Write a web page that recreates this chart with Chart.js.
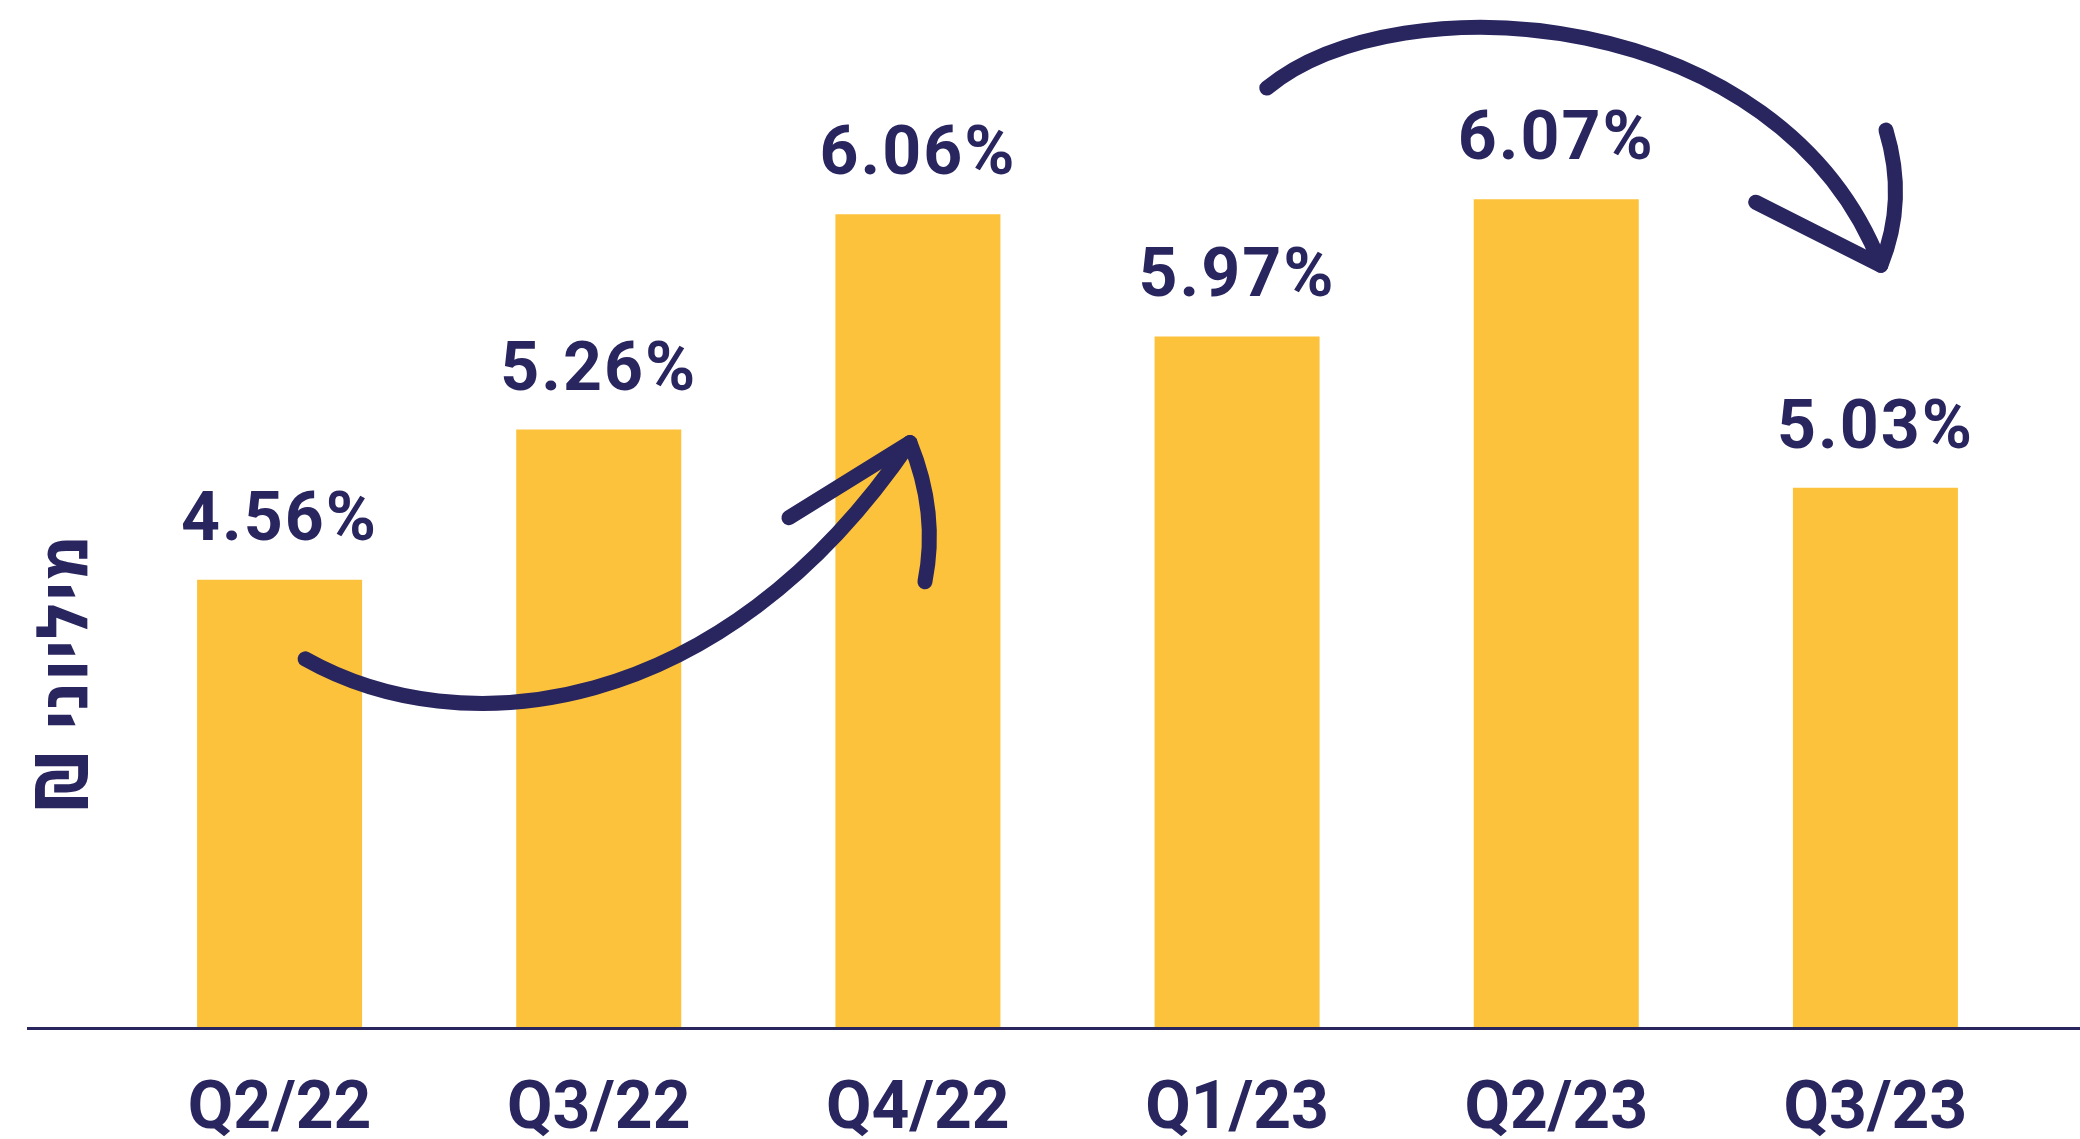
<!DOCTYPE html>
<html lang="he">
<head>
<meta charset="utf-8">
<title>Quarterly chart</title>
<script src="https://cdn.jsdelivr.net/npm/chart.js@4.4.1/dist/chart.umd.min.js"></script>
<style>
  html, body { margin: 0; padding: 0; background: #fff; }
  #chart { display: block; }
</style>
</head>
<body>
<canvas id="chart" width="2080" height="1139"></canvas>
<script>
// Data
const quarters = ['Q2/22', 'Q3/22', 'Q4/22', 'Q1/23', 'Q2/23', 'Q3/23'];
// bar heights (no scale printed)
const barValues = [44.8, 59.8, 81.3, 69.1, 82.8, 54.0];
// percentages printed above the bars
const pctLabels = ['4.56%', '5.26%', '6.06%', '5.97%', '6.07%', '5.03%'];
const yTitle = 'מיליוני ₪\u200F';
const yMax = 100;

const navy = '#29255f';
const yellow = '#fdc23b';

// hand-drawn arrows, in (category index, value) units
const arrows = [
  {
    curve: [[0.08, 36.9], [0.565, 28.2], [1.38, 30.7], [1.975, 58.5]],
    barbLeft: [1.596, 51.0],
    barbRight: [[2.065, 51.5], [2.022, 44.6]]
  },
  {
    curve: [[3.093, 93.9], [3.51, 104.8], [4.701, 102.2], [5.017, 76.2]],
    barbLeft: [4.625, 82.5],
    barbRight: [[5.1, 82.7], [5.033, 89.7]]
  }
];

const decorPlugin = {
  id: 'decor',
  afterDatasetsDraw(chart) {
    const { ctx, chartArea, scales: { x, y } } = chart;
    const meta = chart.getDatasetMeta(0);
    const px = p => [x.getPixelForValue(p[0]), y.getPixelForValue(p[1])];
    ctx.save();

    // baseline
    ctx.strokeStyle = navy;
    ctx.lineWidth = 3;
    ctx.beginPath();
    ctx.moveTo(chartArea.left - 93, chartArea.bottom);
    ctx.lineTo(chart.width, chartArea.bottom);
    ctx.stroke();

    // value labels
    ctx.fillStyle = navy;
    ctx.font = '700 68px Roboto';
    ctx.letterSpacing = '2px';
    ctx.textAlign = 'center';
    ctx.textBaseline = 'alphabetic';
    meta.data.forEach((bar, i) => {
      ctx.fillText(pctLabels[i], bar.x, bar.y - 40);
    });
    ctx.letterSpacing = '0px';

    // arrows
    ctx.lineWidth = 15;
    ctx.lineCap = 'round';
    ctx.lineJoin = 'round';
    arrows.forEach(a => {
      const [p0, p1, p2, p3] = a.curve.map(px);
      ctx.beginPath();
      ctx.moveTo(p0[0], p0[1]);
      ctx.bezierCurveTo(p1[0], p1[1], p2[0], p2[1], p3[0], p3[1]);
      ctx.stroke();
      const bl = px(a.barbLeft);
      ctx.beginPath();
      ctx.moveTo(bl[0], bl[1]);
      ctx.lineTo(p3[0], p3[1]);
      const c = px(a.barbRight[0]);
      const e = px(a.barbRight[1]);
      ctx.quadraticCurveTo(c[0], c[1], e[0], e[1]);
      ctx.stroke();
    });

    // y axis title
    ctx.translate(chartArea.left - 33, (chartArea.top + chartArea.bottom) / 2 + 145);
    ctx.rotate(-Math.PI / 2);
    ctx.direction = 'rtl';
    ctx.font = 'bold 72px "DejaVu Sans Condensed"';
    ctx.fillText(yTitle, 0, 0);
    ctx.restore();
  }
};

new Chart(document.getElementById('chart'), {
  type: 'bar',
  data: {
    labels: quarters,
    datasets: [{
      data: barValues,
      backgroundColor: yellow,
      borderWidth: 0,
      categoryPercentage: 1,
      barPercentage: 0.517
    }]
  },
  options: {
    responsive: false,
    animation: false,
    layout: { padding: { left: 120, right: 45, top: 27, bottom: -55 } },
    plugins: { legend: { display: false }, tooltip: { enabled: false } },
    scales: {
      x: {
        grid: { display: false, drawTicks: false },
        border: { display: false },
        ticks: {
          color: navy,
          padding: 63,
          font: { family: 'Roboto', weight: 'bold', size: 66, lineHeight: 0.6 }
        }
      },
      y: { display: false, min: 0, max: yMax }
    }
  },
  plugins: [decorPlugin]
});
</script>
</body>
</html>
